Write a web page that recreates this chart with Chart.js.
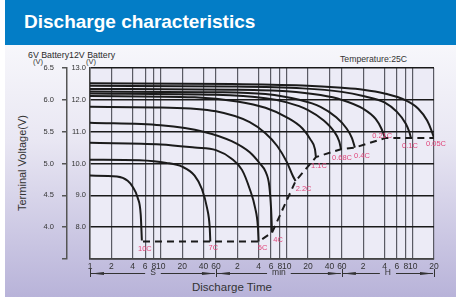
<!DOCTYPE html>
<html>
<head>
<meta charset="utf-8">
<script src="https://cdn.jsdelivr.net/npm/chart.js@4/dist/chart.umd.min.js"></script>
<style>
  html,body{margin:0;padding:0;}
  body{width:456px;height:297px;position:relative;overflow:hidden;background:#ffffff;font-family:"Liberation Sans",Arial,sans-serif;}
  #bg{position:absolute;left:5px;top:0;width:451px;height:297px;background:linear-gradient(to bottom,#f7f7fb 45px,#e9e7f3 140px,#b8b3d9 297px);}
  #header{position:absolute;left:5px;top:0;width:451px;height:45px;background:#037dc6;}
  #title{position:absolute;left:24px;top:10px;color:#fff;font-weight:bold;font-size:19px;line-height:24px;white-space:nowrap;}
  .t{position:absolute;white-space:nowrap;color:#333;}
  canvas{position:absolute;left:0;top:0;}
</style>
</head>
<body>
<div id="bg"></div>
<div id="header"></div>
<div id="title">Discharge characteristics</div>
<div class="t" style="left:28px;top:50px;font-size:8.8px;line-height:10px;color:#2a2a2a;">6V Battery12V Battery</div>
<div class="t" style="left:33px;top:58px;font-size:7.5px;line-height:8px;">(V)</div>
<div class="t" style="left:86px;top:58px;font-size:7.5px;line-height:8px;">(V)</div>
<div class="t" style="left:340px;top:54px;font-size:8.7px;line-height:10px;">Temperature:25C</div>
<div class="t" style="left:22px;top:163px;font-size:11px;line-height:12px;transform:translate(-50%,-50%) rotate(-90deg);">Terminal Voltage(V)</div>
<div class="t" style="left:192px;top:281px;font-size:11.5px;line-height:13px;">Discharge Time</div>
<canvas id="c" width="456" height="297"></canvas>
<script>
// ---- data (time in seconds, voltage for 12V battery) ----
const tickValues = [1,2,4,6,8,10,20,40,60,120,240,360,480,600,1200,2400,3600,7200,14400,21600,28800,36000,72000];
const tickLabels = ['1','2','4','6','8','10','20','40','60','2','4','6','8','10','20','40','60','2','4','6','8','10','20'];
const y12Ticks = [7,8,9,10,11,12,13];
const y6Ticks = [3.5,4,4.5,5,5.5,6,6.5];
const rates = ['10C','7C','5C','4C','2.2C','1.1C','0.68C','0.4C','0.21C','0.1C','0.05C'];

const curve10C  = [[1,9.62],[2.4,9.59],[3.4,9.46],[4,9.27],[4.7,8.93],[5.2,8.4],[5.4,7.58]];
const curve7C   = [[1,10.12],[5,10.1],[12,10.02],[20,9.9],[30,9.62],[38,9.2],[45,8.6],[49,8.0],[50,7.55]];
const curve5C   = [[1,10.65],[10,10.6],[30,10.5],[60,10.42],[100,10.15],[140,9.8],[180,9.2],[215,8.6],[235,8.0],[240,7.55]];
const curve4C   = [[1,11.28],[10,11.2],[40,11.0],[100,10.7],[180,10.35],[250,10.0],[300,9.75],[340,9.3],[360,8.6],[372,7.83]];
const curve2_2C = [[1,11.78],[10,11.76],[60,11.64],[180,11.3],[300,10.95],[440,10.55],[600,10.05],[735,9.6],[800,9.45]];
const curve1_1C = [[1,12.12],[30,12.08],[120,11.95],[300,11.75],[600,11.45],[1000,11.1],[1300,10.75],[1500,10.45],[1550,10.2]];
const curve0_68C= [[1,12.2],[60,12.16],[300,12.05],[600,11.92],[1200,11.68],[2000,11.35],[2800,11.0],[3300,10.7],[3500,10.45]];
const curve0_4C = [[1,12.26],[60,12.24],[300,12.18],[900,12.0],[1800,11.78],[3000,11.45],[4200,11.1],[5000,10.8],[5500,10.5]];
const curve0_21C= [[1,12.34],[100,12.32],[600,12.27],[1800,12.15],[3600,12.0],[7200,11.72],[10800,11.4],[13000,11.1],[14700,10.8]];
const curve0_1C = [[1,12.44],[100,12.42],[1000,12.36],[3600,12.25],[7200,12.12],[14400,11.92],[21600,11.62],[28800,11.25],[32400,10.98],[34000,10.8]];
const curve0_05C= [[1,12.52],[100,12.5],[1000,12.45],[3600,12.38],[7200,12.32],[14400,12.2],[28800,11.98],[43200,11.72],[57600,11.35],[66000,11.05],[72000,10.8]];
const endLine   = [[5.6,7.55],[240,7.55],[372,7.83],[800,9.45],[1550,10.2],[3500,10.45],[5500,10.5],[14700,10.8],[34000,10.8],[72000,10.8]];

const curves = [curve10C,curve7C,curve5C,curve4C,curve2_2C,curve1_1C,curve0_68C,curve0_4C,curve0_21C,curve0_1C,curve0_05C];

// ---- styling ----
const labelOffsets = [[3,8],[3,6],[4,6],[6,7],[8,8],[3,9],[1,9],[7,8],[-3,-2],[-1,8],[2,6]];
const FONT = 'Liberation Sans, Arial, sans-serif';
const toXY = arr => arr.map(p => ({x:p[0], y:p[1]}));

const datasets = curves.map((c,i) => ({
  label: rates[i], data: toXY(c), yAxisID:'y',
  borderColor:'#1b1b1b', borderWidth:2, pointRadius:0, fill:false,
  cubicInterpolationMode:'monotone'
}));
datasets.push({label:'end', data: toXY(endLine), yAxisID:'y', borderColor:'#1b1b1b', borderWidth:2,
  borderDash:[7,5], pointRadius:0, tension:0, fill:false});

const plotBg = {
  id:'plotBg',
  beforeDraw(chart){
    const {ctx, chartArea:a} = chart;
    ctx.save(); ctx.fillStyle = '#ecebf6'; ctx.fillRect(a.left, a.top, a.right-a.left, a.bottom-a.top); ctx.restore();
  }
};

const rateLabels = {
  id:'rateLabels',
  afterDatasetsDraw(chart){
    const ctx = chart.ctx;
    ctx.save();
    ctx.font = '7.5px ' + FONT; ctx.fillStyle = '#e0457a'; ctx.textAlign='center'; ctx.textBaseline='middle';
    rates.forEach((r,i) => {
      const pts = chart.getDatasetMeta(i).data; const p = pts[pts.length-1];
      ctx.fillText(r, p.x + labelOffsets[i][0], p.y + labelOffsets[i][1]);
    });
    ctx.restore();
  }
};

const unitBar = {
  id:'unitBar',
  afterDraw(chart){
    const ctx = chart.ctx, xs = chart.scales.x;
    const y = 273;
    const bounds = [1,60,3600,72000];
    const names = ['S','min','H'];
    ctx.save();
    ctx.strokeStyle = '#333'; ctx.fillStyle = '#333'; ctx.lineWidth = 1;
    bounds.forEach(b => { const x = Math.round(xs.getPixelForValue(b)) + 0.5; ctx.beginPath(); ctx.moveTo(x, y-4); ctx.lineTo(x, y+4); ctx.stroke(); });
    ctx.font = '8.5px ' + FONT; ctx.textAlign='center'; ctx.textBaseline='middle';
    for (let k=0;k<3;k++){
      const x0 = xs.getPixelForValue(bounds[k]), x1 = xs.getPixelForValue(bounds[k+1]);
      const xm = xs.getPixelForValue(Math.sqrt(bounds[k]*bounds[k+1]));
      const w = ctx.measureText(names[k]).width/2 + 5;
      ctx.fillText(names[k], xm, y);
      ctx.beginPath(); ctx.moveTo(x0+1, y+0.5); ctx.lineTo(xm-w, y+0.5); ctx.moveTo(xm+w, y+0.5); ctx.lineTo(x1-1, y+0.5); ctx.stroke();
      ctx.beginPath(); ctx.moveTo(x0+1, y+0.5); ctx.lineTo(x0+14, y-1); ctx.lineTo(x0+14, y+2); ctx.closePath(); ctx.fill();
      ctx.beginPath(); ctx.moveTo(x1-1, y+0.5); ctx.lineTo(x1-14, y-1); ctx.lineTo(x1-14, y+2); ctx.closePath(); ctx.fill();
    }
    ctx.restore();
  }
};

new Chart(document.getElementById('c'), {
  type:'line',
  data:{datasets},
  options:{
    responsive:false, animation:false, devicePixelRatio:1,
    layout:{padding:{top:68, right:22, left:0, bottom:0}},
    plugins:{legend:{display:false}, tooltip:{enabled:false}},
    scales:{
      x:{
        type:'logarithmic', min:1, max:72000,
        afterBuildTicks: s => { s.ticks = tickValues.map(v => ({value:v})); },
        afterFit: s => { s.height = 38; },
        ticks:{autoSkip:false, maxRotation:0, minRotation:0, padding:3, color:'#333',
          font:{family:FONT, size:8.5}, callback:(v,i) => tickLabels[i]},
        grid:{color:'#5a5a64', lineWidth:1.2, drawTicks:false},
        border:{display:true, color:'#444', width:1.5}
      },
      y:{
        type:'linear', position:'left', weight:0, min:7, max:13,
        afterBuildTicks: s => { s.ticks = y12Ticks.map(v => ({value:v})); },
        afterFit: s => { s.width = 23; },
        ticks:{padding:4, color:'#333', font:{family:FONT, size:7.5}, callback: v => v === 7 ? '' : v.toFixed(1)},
        grid:{color:'#1a1a1a', lineWidth:1.5, drawTicks:false},
        border:{display:true, color:'#444', width:1.5}
      },
      y6:{
        type:'linear', position:'left', weight:1, min:3.5, max:6.5,
        afterBuildTicks: s => { s.ticks = y6Ticks.map(v => ({value:v})); },
        afterFit: s => { s.width = 67; },
        ticks:{padding:8, color:'#333', font:{family:FONT, size:7.5}, callback: v => v === 3.5 ? '' : v.toFixed(1)},
        grid:{drawOnChartArea:false, drawTicks:true, tickLength:5, color:'#555', lineWidth:1.5},
        border:{display:true, color:'#555', width:1.5}
      }
    }
  },
  plugins:[plotBg, rateLabels, unitBar]
});
</script>
</body>
</html>
